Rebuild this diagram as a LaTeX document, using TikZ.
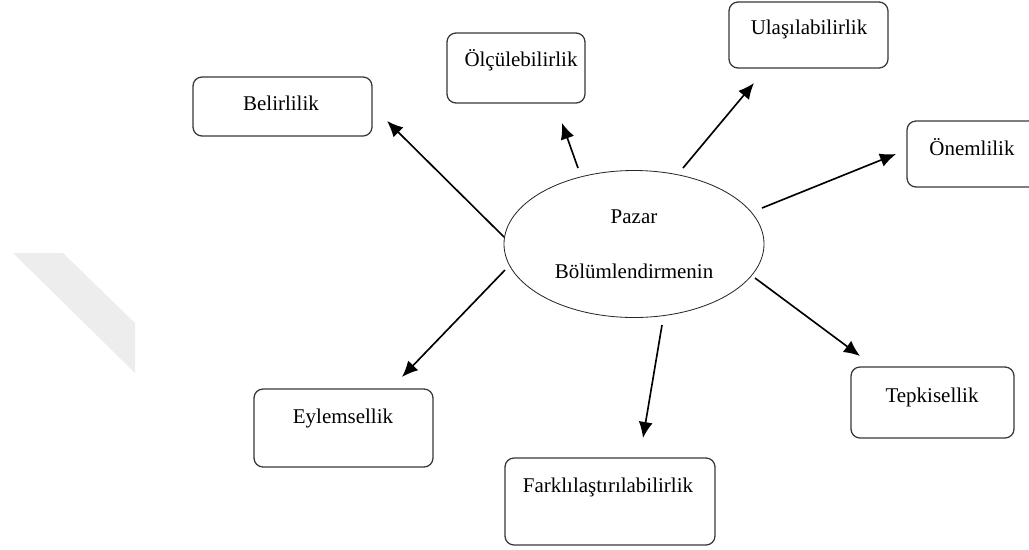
\documentclass[tikz,border=0pt]{standalone}
\usepackage{fontspec}
\setmainfont{Liberation Serif}
\usetikzlibrary{arrows.meta,shapes.geometric}
\begin{document}
\begin{tikzpicture}[x=0.03cm, y=-0.03cm,
    kutu/.style={draw=black!78, line width=1.1pt, rounded corners=0.27cm},
    yazi/.style={font=\fontsize{17.9}{21}\selectfont, inner sep=0pt},
    ok/.style={line width=1.4pt, -{Latex[length=0.48cm, width=0.42cm]}}]
    \useasboundingbox (0,0) rectangle (1029,549);
    \fill[black!7] (13,253) -- (63,253) -- (135,323) -- (135,373) -- cycle;

    \node[draw=black!85, line width=0.7pt, ellipse, minimum width=7.8cm, minimum height=4.41cm,
          yazi, align=center] (pazar) at (634,244) {Pazar\\[26pt]Bölümlendirmenin};

    \node[kutu, minimum width=5.37cm, minimum height=1.77cm] (bel) at (282.5,106.5) {};
    \node[kutu, minimum width=4.14cm, minimum height=2.1cm] (olc) at (516,68) {};
    \node[kutu, minimum width=4.77cm, minimum height=1.98cm] (ula) at (808.5,35) {};
    \node[kutu, minimum width=4.5cm, minimum height=1.98cm] (one) at (982,154) {};
    \node[kutu, minimum width=4.89cm, minimum height=2.13cm] (tep) at (932.5,402.5) {};
    \node[kutu, minimum width=5.37cm, minimum height=2.34cm] (eyl) at (343.5,428) {};
    \node[kutu, minimum width=6.3cm, minimum height=2.61cm] (far) at (610,501.5) {};

    \node[yazi] (bel-y) at (281,103) {Belirlilik};
    \node[yazi] (olc-y) at (521,60) {Ölçülebilirlik};
    \node[yazi] (ula-y) at (809,29) {Ulaşılabilirlik};
    \node[yazi] (one-y) at (972,147) {Önemlilik};
    \node[yazi] (tep-y) at (932,397) {Tepkisellik};
    \node[yazi] (eyl-y) at (343,418) {Eylemsellik};
    \node[yazi] (far-y) at (608,487) {Farklılaştırılabilirlik};

    \coordinate (bel-a) at (504,237);  \coordinate (bel-b) at (387,121);
    \coordinate (olc-a) at (578,168);  \coordinate (olc-b) at (562,123);
    \coordinate (ula-a) at (683,168);  \coordinate (ula-b) at (754,83);
    \coordinate (one-a) at (762,208);  \coordinate (one-b) at (896,154);
    \coordinate (tep-a) at (755,278);  \coordinate (tep-b) at (860,356);
    \coordinate (far-a) at (662,325);  \coordinate (far-b) at (643,438);
    \coordinate (eyl-a) at (505,270);  \coordinate (eyl-b) at (402,377);

    \draw[ok] (bel-a) -- (bel-b);
    \draw[ok] (olc-a) -- (olc-b);
    \draw[ok] (ula-a) -- (ula-b);
    \draw[ok] (one-a) -- (one-b);
    \draw[ok] (tep-a) -- (tep-b);
    \draw[ok] (far-a) -- (far-b);
    \draw[ok] (eyl-a) -- (eyl-b);
\end{tikzpicture}
\end{document}
